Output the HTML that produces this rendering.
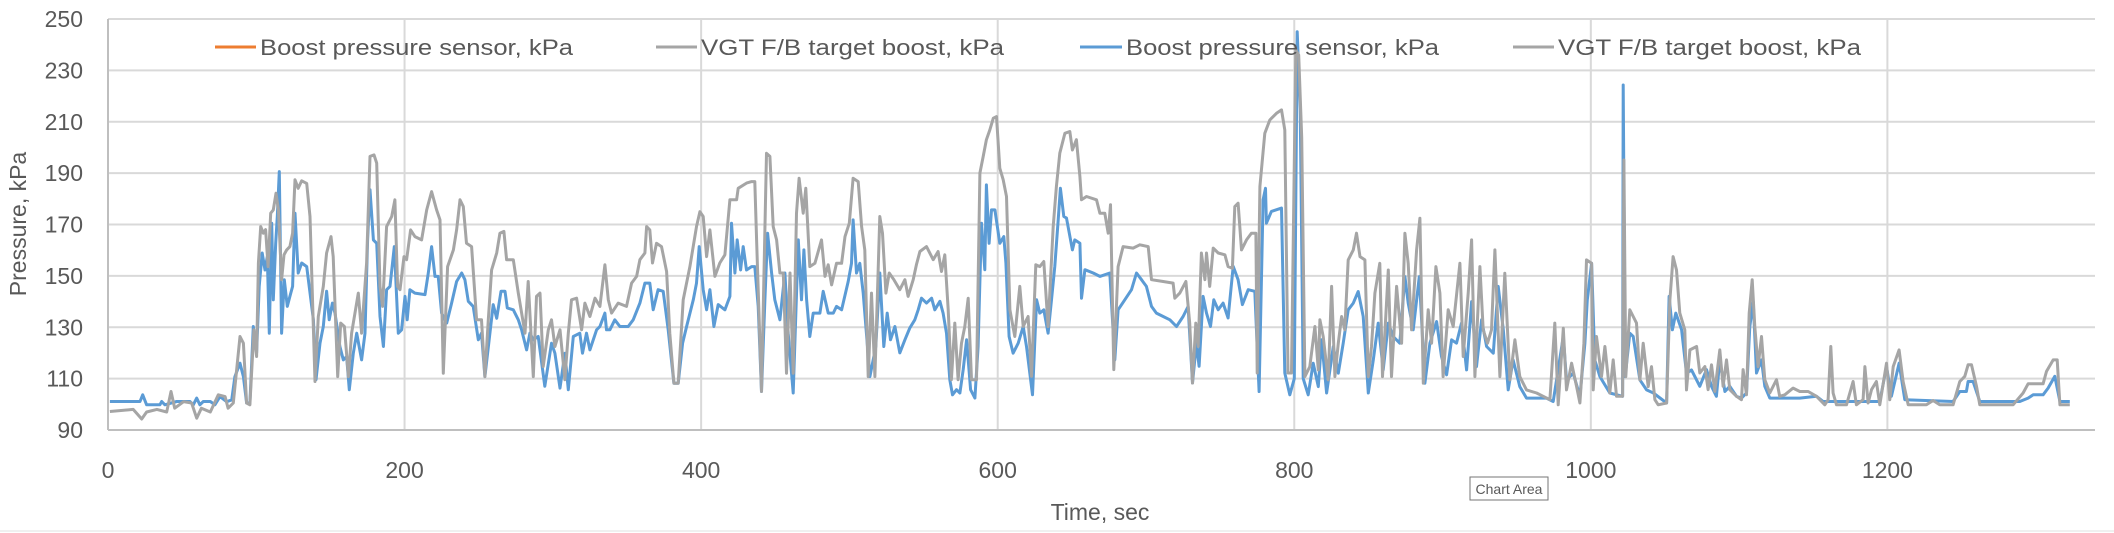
<!DOCTYPE html>
<html><head><meta charset="utf-8"><style>
html,body{margin:0;padding:0;background:#fff;}
svg{display:block;font-family:"Liberation Sans",sans-serif;}
</style></head><body>
<svg id="chart" width="2114" height="533" viewBox="0 0 2114 533" xmlns="http://www.w3.org/2000/svg">
<rect x="0" y="0" width="2114" height="533" fill="#fff"/>
<g id="grid"></g>
<g id="series"></g>
<g id="axes"></g>
<text x="0" y="0" transform="translate(26,224) rotate(-90)" text-anchor="middle" font-size="23" fill="#595959">Pressure, kPa</text>
<text x="1100" y="520" text-anchor="middle" font-size="23" fill="#595959">Time, sec</text>
<g>
 <g>
  <line x1="215" y1="47" x2="256" y2="47" stroke="#ED7D31" stroke-width="3"/>
  <text x="260" y="55" font-size="22" fill="#595959" textLength="313" lengthAdjust="spacingAndGlyphs">Boost pressure sensor, kPa</text>
 </g>
 <g>
  <line x1="656" y1="47" x2="697" y2="47" stroke="#A5A5A5" stroke-width="3"/>
  <text x="701" y="55" font-size="22" fill="#595959" textLength="303" lengthAdjust="spacingAndGlyphs">VGT F/B target boost, kPa</text>
 </g>
 <g>
  <line x1="1080" y1="47" x2="1122" y2="47" stroke="#5B9BD5" stroke-width="3"/>
  <text x="1126" y="55" font-size="22" fill="#595959" textLength="313" lengthAdjust="spacingAndGlyphs">Boost pressure sensor, kPa</text>
 </g>
 <g>
  <line x1="1513" y1="47" x2="1554" y2="47" stroke="#A5A5A5" stroke-width="3"/>
  <text x="1558" y="55" font-size="22" fill="#595959" textLength="303" lengthAdjust="spacingAndGlyphs">VGT F/B target boost, kPa</text>
 </g>
</g>
<g>
 <rect x="1470" y="477" width="78" height="23" fill="#fff" stroke="#767676" stroke-width="1"/>
 <text x="1509" y="494" text-anchor="middle" font-size="14" fill="#595959">Chart Area</text>
</g>
<line x1="0" y1="531" x2="2114" y2="531" stroke="#E0E0E0" stroke-width="1"/>
</svg>
<script>
const xTicks = [0,200,400,600,800,1000,1200];
const yTicks = [90,110,130,150,170,190,210,230,250];
const targetTime = [1.3,17,22.7,26,33,39.6,42.5,45,51,56.4,59.8,63,69,74.4,79,81,84.5,89,91.3,93.5,95.7,98.4,100.2,101.4,103,104.7,106.3,108,109.7,111.5,113.3,114.9,117.1,118.7,120.5,122.7,124.5,126.1,128.3,130.6,134,136.2,139.6,141.8,145.2,147.4,150.4,151.9,154.9,156.9,159.4,162.1,164.3,168.8,171,174.4,176.7,179.4,181.2,183.4,185.2,187.9,191.3,193.5,195.3,196.9,199.6,201.4,204.1,207,211.5,214.9,218.2,221.6,223.9,226.1,229,232.9,235.1,237.4,239.6,241.8,245.2,248.6,251.9,254.2,256.4,258.7,262.1,264.3,267,268.8,273.3,276.7,281.2,283.4,286.8,289,291.3,293.5,296.9,299.1,301.4,304.8,308.1,310.4,312.6,316,319.4,321.6,325,328.4,331.7,335.1,337.4,339.6,344.1,349.7,353.1,356.5,358.7,362.1,363.2,365.4,367.2,369.9,373.3,376.7,378.9,381.6,384.5,387.9,392.4,396.9,399.2,401.4,403.7,405.9,409.3,412.6,416,419.4,423.9,425,430.6,434,436.2,437.4,440.7,444.1,446.4,448.6,450.9,453.1,455.4,457.6,459.9,462.1,464.3,466.1,468.8,470.6,473.3,476.7,481.2,483.5,485.7,488,491.3,494.7,497,499.9,502.5,505.9,508.2,510.4,512.7,514.9,517.2,520.5,522.3,524.6,526.8,530,534,537.4,539.6,543,545.2,547.5,552,556.5,559.8,562.1,564.3,566.6,568.8,571.1,573.3,575.6,577.8,580.1,582.3,585.7,588,590.2,592.4,594.7,597,599.2,601.4,603.7,605.9,608.2,611.5,614.9,617.2,620.5,622.8,625.7,628.4,631.1,634,637.4,639.6,641.9,645.3,648.6,650.4,653.1,655.4,656.5,659.9,666.6,668.9,672.2,674.5,676.1,678.3,681.2,684.6,691.3,695.8,701.5,703.7,711.6,718.3,719.4,722.8,726.9,729.5,731.4,733.6,735.2,737.4,739.7,740.8,743,745.3,748.7,753.2,755.4,758.3,759.9,762.1,764.4,767.8,771.1,774.1,775,776.8,780.1,783.5,788,791.4,793.6,795.8,798.1,801,803,805,807.2,810.5,813.9,816.2,817.3,819.5,822.9,825.2,827.4,829.7,831.9,834.1,836.4,839.8,842,844.3,847.6,849.9,852.1,854.4,857.7,859.5,863.4,865.6,869,872.4,874.6,876.8,879.1,882.5,884.7,887,890.3,892.6,895.5,898.2,900.4,903.8,907.2,911.7,913.9,917.3,919.6,921.8,925.2,927.4,930.3,933,935.3,938.7,942,945.4,948.8,952.1,956.6,963.4,967.9,972.4,975.7,978,981.4,983.6,987,990.4,992.6,995.3,997.1,1000.5,1001.6,1003.8,1007.2,1009.5,1012.8,1015.1,1017.3,1021.4,1022.3,1023.6,1026.3,1028.6,1030.8,1033.1,1035.3,1038.7,1040.9,1043.2,1045.4,1051.1,1053.3,1055.5,1057.8,1060,1063.4,1064.5,1066.8,1071.3,1073.5,1076.9,1079.1,1081.4,1083.6,1087,1089.2,1091.5,1093.7,1098.2,1101.6,1102.7,1105,1106.8,1108.8,1110.6,1112.8,1115.1,1117.3,1120.7,1125.2,1127.4,1130.8,1136.4,1140.9,1146.6,1152.2,1157.8,1160,1161.8,1163.4,1165.7,1172.4,1176.9,1179.1,1183.6,1184.8,1187,1189.3,1192.6,1194.9,1199.4,1201.6,1203.9,1207.9,1210.6,1214,1226.3,1230.8,1235.3,1244.3,1248.8,1252.2,1254.4,1256.7,1260.1,1262.3,1284.8,1291.5,1294.9,1305,1307.3,1311.8,1314.5,1316.3,1323];
const targetValue = [97.2,98,94.3,97,98,97,105,98.5,101,100.5,94.6,98.5,97,103.7,103,98.5,100.5,126.4,123.8,100.5,99.8,129,118.6,155,169.2,166.6,168,153.6,174.4,175.7,182.2,175.7,148.5,158.2,160.1,161.4,166.6,187.4,184.1,187,186,173.1,108.9,134.2,145.9,158.9,165.3,157.5,110.8,131.6,130.3,110.8,127.7,143.3,127.7,155,196.5,197.1,193.9,145.9,138.1,169.2,173.1,179.6,145.9,144.6,157.5,156.3,167.9,165.3,164,175.7,182.8,175.7,171.8,112.1,153.6,160.1,167.9,179.6,177,162.7,161.4,132.9,132.9,110.8,132.3,152.3,158.9,166.6,167.3,156.3,156.3,143.3,127.7,147.8,110.8,142,143.3,114.7,129,132.9,122.5,129,109.6,127.7,140.7,141.3,129,139.4,134.2,141.3,138.1,154.3,140.7,135.5,139.4,138.1,147.2,149.8,156.3,158.9,169.2,167.9,155,162.7,161.4,151.7,127.7,108.2,108.2,140.7,153.6,169.2,175,173.1,157.5,167.9,149.8,155,158.2,179.6,179.6,184.1,186.1,186.7,186.7,164,105,197.7,196.5,169.2,164,151.1,151.1,112.1,151.1,112.1,174.4,188,174.4,184.1,153.6,154.9,164,149.8,154.3,146.5,154.9,154.9,165.3,170.5,188,186.7,169.2,160.1,110.8,143.3,110.8,173.1,166.6,143.3,151.1,148.5,144.6,148.5,142,148.5,154.3,159.5,161.4,156.3,159.5,151.7,158.2,136.8,109.6,131.6,109.6,123.8,130.3,141.3,109.6,109.6,190,196.5,203,206.8,211.4,212,191.9,187.4,180.9,136.8,126.4,145.9,130.3,134.2,110.9,154.3,153.6,155.6,130.3,169.2,184.8,197.8,205.5,206.2,199,203,188.7,179.6,180.9,179.6,174.4,174.4,166.6,177.7,113.5,153.6,161.4,160.8,162.1,161.4,148.5,147.8,147.2,141.3,143.3,147.8,131.6,108.3,131.6,122.5,158.9,148.5,158.9,145.9,160.8,158.9,158.2,153.6,153,177,178.3,160.1,164,166.6,166.6,112.2,184.8,205.5,210.7,213.3,214.6,206.8,112.2,112.2,238,236,204,110.8,114.7,130.3,113.4,132.9,126.4,109.5,145.9,110.8,123.8,134.2,129,156.2,160.1,166.6,157.5,156.2,110.8,122.5,143.3,154.9,110.8,152.3,110.8,145.9,123.8,166.6,154.9,129,160.1,172.4,108.2,136.8,123.8,153.6,143.3,110.8,136.8,130.3,154.9,118.6,143.3,164,110.8,153.6,129,123.8,129,160.1,110.8,151,109.5,125.1,110.8,105.6,104.4,103.1,101.8,131.6,99.8,129.6,105.6,116,106.9,100.5,123.8,156.2,154.9,105.6,126.4,110.8,122.5,104.4,117.3,103.1,103.1,195.1,110.8,136.8,134.2,131.6,109.5,123.8,106.9,114.7,101.8,99.8,100.5,140.7,157.5,152.3,135.5,129,105.6,121.2,122.5,112.2,114.7,105.7,115.4,105,121.2,107,117.3,105.7,103.1,101.8,113.5,103.7,135.5,148.5,130.3,114.7,126.4,109.6,104.4,109.6,103.1,103.7,106.3,105,105,103.1,99.8,101.8,122.5,104.4,99.8,99.8,108.9,99.8,101.8,114.7,100.5,105.7,108.9,99.8,116,101.8,114.7,121.2,108.9,99.8,99.8,101.5,99.8,99.8,108.9,110.9,115.4,115.4,107,99.8,99.8,104.4,108,108,112.8,117.3,117.3,99.8,99.8];
const sensorTime = [1.3,21.6,23.4,26,35,36.2,38.4,46.3,55.3,57.5,59.8,62,64.3,69,72.1,75.5,80,83.4,85.6,89,91.3,93.5,95.7,98,100.2,102,104,105.9,107.4,108.8,110.4,111.5,113.1,114.2,115.5,117.1,118.9,120.9,122.7,124.5,126.1,128.3,130.6,134,138.5,140.3,143,145.2,147.4,149.2,151.3,153.1,156.4,158.7,160.9,162.7,165.4,167.7,171,173.3,175.1,176.7,179,181.2,183.4,185.7,187.9,190.2,193.1,195.8,198,200.3,201.8,203.6,207,213.8,216,218.2,220.5,222.7,225,228.4,231.7,235.1,238.5,240.7,243,246.3,249.7,251.9,254.2,256.4,259.8,262.1,265,267.7,269.3,273.3,276.7,278.9,282.3,284.5,286.8,290.1,294.6,299.1,301.4,304.8,308.1,310.4,313.8,318.2,320,322.7,325,329.5,331.7,335.1,336.2,338.5,341.8,345.2,350.8,354.2,358.7,362.1,365.4,367.7,371,374.4,377.8,381.6,384.5,387.5,390.2,394.7,396.9,398.7,401.4,403.7,405.9,408.6,411.5,416,419.4,420.5,422.8,424.3,426.6,428.4,430.6,434,436.2,438.5,440.7,443,444.8,447.5,449.7,453.1,456.5,458.7,462.1,465.5,467.7,469.3,471.1,473.3,475.6,480.1,482.3,485.7,489.1,491.3,494.7,499.2,501.4,502.5,504.8,507,509.3,513.8,517.8,520.5,523.2,525.5,527.7,530.7,534,537.4,540.7,544.1,546.4,548.6,552,555.4,557.6,561,563.2,565.5,567.7,569.5,572.2,574.5,576.7,579,581.7,584.6,586.8,589.1,591.3,592.4,594.2,595.8,598.1,601.4,604.1,605.5,607.7,610.4,613.8,617.2,619.4,623.5,626.2,628.4,631.1,634,636.3,638.5,640.8,642.3,644.6,646.4,650.4,652,655.4,656.5,658.8,664.4,668.9,675.6,679,681.2,685.7,690.2,693.6,697,700.3,703.7,707,711.6,716.1,720.6,725,728.4,731.4,734,735.8,738.5,740.8,743.5,745.7,748.7,752,755.4,758.8,762.1,765,768.9,773.4,776.3,779,780.6,781.2,784.6,791.4,793.6,797,800,802,804,806,809.4,812.8,816.2,818.4,821.8,826.3,829.7,833,836.4,839.8,843.1,846.5,849.9,853.3,856.6,860,863.4,866.7,871.2,874.6,876.8,880.2,884.3,888.1,891.5,896,899.3,902.7,906.1,909.4,912.8,916.2,919.6,922.9,926.3,929.7,934.2,937.5,941,944.3,947.6,952.1,956.6,970.1,974.6,981.4,983.6,988.1,992.6,996,997.6,1000.5,1002.7,1006.1,1012.8,1021.4,1021.8,1023.2,1026.3,1028.6,1033.1,1037.6,1042.2,1051.1,1052.8,1055,1057.3,1061.2,1064.5,1067.9,1073.5,1078,1081.4,1084.7,1087,1090.4,1093.7,1098.2,1101.6,1105,1107.2,1109.5,1111.7,1115.1,1117.3,1120.7,1129.7,1140.9,1152.2,1156.7,1167.9,1179.1,1194.9,1199.4,1202.7,1207.9,1211.7,1244.3,1248.8,1253.3,1254.4,1257.8,1262.3,1289.3,1294.9,1298.3,1305,1308.4,1312.9,1316.3,1323];
const sensorValue = [101.1,101.1,103.7,99.8,99.8,101.1,99.8,101.1,101.1,99.8,102.4,99.8,101.1,101.1,99.8,103,101,101.7,110.8,116,110.8,100.5,100.5,130.3,120,145.9,158.9,152.3,157.5,127.7,170.5,140.7,162.7,173.1,190.6,127.7,148.5,138.1,142,145.9,174.4,151.1,155,153.6,132.9,109.6,123.8,130.3,144,132.9,139.4,135.5,122.5,117.3,118.6,105.7,119.9,127.7,117.3,127.7,164,183.5,164,162.7,134.2,122.5,144.6,145.9,161.4,127.7,129,142,132.9,144.6,143.3,142.7,151.1,161.4,149.8,149.8,135.5,131.6,139.4,147.8,151.1,148.5,140.1,138.1,125.1,127.7,110.8,121.9,138.8,133.5,144,144,137.5,136.8,132.9,129,121.2,127.7,125.1,126.4,107,123.8,119.9,106.3,119.9,105.7,126.4,127.7,119.9,127.7,121.2,129,130.3,135.5,129,129,132.9,130.3,130.3,132.9,139.4,147.2,147.2,136.8,144.6,144,129,108.2,108.2,123.8,130.3,140.7,147.2,161.4,144.6,136.8,144.6,130.3,138.8,136.8,142,170.5,151.1,164,152.3,161.4,152.3,153.6,153.6,138.1,105,140.7,166.6,151.1,140.7,132.9,151.1,127.7,104.4,164,140.7,160.1,140.7,126.4,135.5,135.5,144,135.5,135.5,138.1,136.8,147.8,154.9,171.8,151.1,154.9,143.3,110.8,122.5,151.1,122.5,135.5,125.1,130.3,120,125.1,129.7,132.9,136.8,141.3,139.4,141.3,136.8,140.1,135.5,127.7,109.6,103.7,105.7,104.4,113.5,125.1,105.7,102.4,122.5,170.5,152.4,185.4,162.7,175.7,175.7,162.7,165.3,155,126.4,119.9,123.8,130.3,122.5,103.7,140.7,135.5,136.8,127.7,140.7,153.7,171.8,184.1,173.1,172.5,160.1,164,162.7,141.3,152.4,151.1,149.8,151.1,117.3,136.8,140.7,144.6,151.1,148.5,145.9,138.1,135.5,134.2,132.9,130.3,134.2,138.1,108.3,123.8,114.8,142,135.5,130.3,140.7,136.8,139.4,133.6,153.7,148.5,138.8,144.6,144,105,179.6,184.1,170.5,175.1,176.4,112.2,103.7,110,245,215,110,103.7,116,106.9,125.1,104.4,122.5,112.1,123.8,136.8,139.4,143.9,134.2,104.4,117.3,131.6,113.4,131.6,126.4,123.8,149.7,139.4,129,149.7,108.2,123.8,132.2,118.6,111.5,125.1,123.8,131.6,113.4,140,114.7,132.9,122.5,119.9,145.9,129,105.6,117.3,106.9,102.4,102.4,101.1,126.4,109.5,112.1,103.1,123.8,140.7,154.9,117.3,110.8,104.4,103.1,224.3,110.8,127.7,126.4,109.5,105.6,104.4,100.5,142,129,135.5,129,112.1,113.4,107,113.5,107,103.1,117.3,105,107,103.1,102.4,104.4,130.3,140,112.2,117.3,107,102.4,102.4,102.4,103.1,101.1,101.1,101.1,101.1,114.7,103.1,116,101.8,101.1,105,105,108.9,108.9,101.1,101.1,102.4,103.7,103.7,106.3,110.9,101.1,101.1];

const NS = 'http://www.w3.org/2000/svg';
const X0 = 108, X1 = 2095, Y0 = 430, Y1 = 19;
function xScale(t){ return X0 + (t - 0) / 1340 * (X1 - X0); }
function yScale(v){ return Y0 - (v - 90) / 160 * (Y0 - Y1); }

const grid = document.getElementById('grid');
const axes = document.getElementById('axes');
const series = document.getElementById('series');

yTicks.forEach(v => {
  const y = yScale(v);
  if (v !== 90) {
    const l = document.createElementNS(NS, 'line');
    l.setAttribute('x1', X0); l.setAttribute('x2', X1);
    l.setAttribute('y1', y); l.setAttribute('y2', y);
    l.setAttribute('stroke', '#D9D9D9'); l.setAttribute('stroke-width', '2');
    
    
    grid.appendChild(l);
  }
  const t = document.createElementNS(NS, 'text');
  t.setAttribute('x', 83); t.setAttribute('y', y + 8);
  t.setAttribute('text-anchor', 'end'); t.setAttribute('font-size', '23'); t.setAttribute('fill', '#595959');
  t.textContent = v;
  
  
  axes.appendChild(t);
});
xTicks.forEach(v => {
  const x = xScale(v);
  if (v !== 0) {
    const l = document.createElementNS(NS, 'line');
    l.setAttribute('x1', x); l.setAttribute('x2', x);
    l.setAttribute('y1', Y1); l.setAttribute('y2', Y0);
    l.setAttribute('stroke', '#D9D9D9'); l.setAttribute('stroke-width', '2');
    
    
    grid.appendChild(l);
  }
  const t = document.createElementNS(NS, 'text');
  t.setAttribute('x', x); t.setAttribute('y', 478);
  t.setAttribute('text-anchor', 'middle'); t.setAttribute('font-size', '23'); t.setAttribute('fill', '#595959');
  t.textContent = v;
  
  
  axes.appendChild(t);
});
const xa = document.createElementNS(NS, 'line');
xa.setAttribute('x1', X0); xa.setAttribute('x2', X1); xa.setAttribute('y1', Y0); xa.setAttribute('y2', Y0);
xa.setAttribute('stroke', '#BFBFBF'); xa.setAttribute('stroke-width', '2');


axes.appendChild(xa);
const ya = document.createElementNS(NS, 'line');
ya.setAttribute('x1', X0); ya.setAttribute('x2', X0); ya.setAttribute('y1', Y1); ya.setAttribute('y2', Y0);
ya.setAttribute('stroke', '#BFBFBF'); ya.setAttribute('stroke-width', '2');


axes.appendChild(ya);

function drawLine(ts, vs, color) {
  const n = Math.min(ts.length, vs.length);
  let d = '';
  for (let i = 0; i < n; i++) d += (i ? 'L' : 'M') + xScale(ts[i]).toFixed(1) + ',' + yScale(vs[i]).toFixed(1);
  const p = document.createElementNS(NS, 'path');
  p.setAttribute('d', d); p.setAttribute('fill', 'none');
  p.setAttribute('stroke', color); p.setAttribute('stroke-width', '3');
  p.setAttribute('stroke-linejoin', 'round');
  return p;
}
const sensorLine = drawLine(sensorTime, sensorValue, '#5B9BD5');


series.appendChild(sensorLine);
const targetLine = drawLine(targetTime, targetValue, '#A5A5A5');


series.appendChild(targetLine);
</script>
</body></html>
